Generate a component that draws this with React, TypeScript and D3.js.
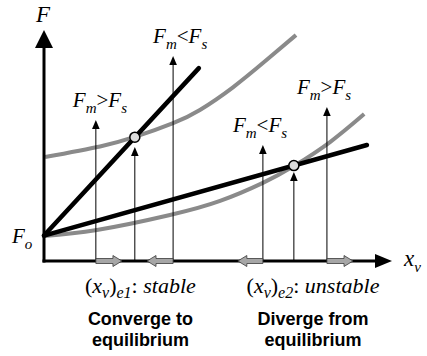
import React from "react";
import * as d3 from "d3";

// Abstract data units (x: valve position, y: force)
const F0 = 1.1;
const steepLine = [
  { x: 0, y: F0 },
  { x: 4.45, y: 8.35 },
];
const shallowLine = [
  { x: 0, y: F0 },
  { x: 9.28, y: 5.02 },
];
const upperCurveX = [0.03, 1.61, 2.61, 3.71, 4.48, 5.43, 6.41, 7.24];
const upperCurveY = [4.5, 4.96, 5.37, 5.97, 6.54, 7.52, 8.72, 9.78];
const lowerCurveX = [0, 1.52, 3.62, 5.06, 6.29, 7.18, 8.22, 9.2];
const lowerCurveY = [1.08, 1.34, 1.99, 2.6, 3.38, 4.11, 5.15, 6.36];
const equilibria = [
  { x: 2.61, y: 5.36 },
  { x: 7.18, y: 4.13 },
];
const probeX = [1.49, 2.61, 3.71, 6.29, 7.18, 8.13];
const probeTip = [6.1, 4.94, 8.87, 5.02, 3.85, 6.67];
const moveFrom = [1.49, 3.71, 6.29, 8.13];
const moveTo = [2.24, 2.96, 5.57, 8.88];
const compareLabels = [
  { x: 1.49, y: 6.1, dx: -23, op: ">" },
  { x: 3.71, y: 8.87, dx: -20, op: "<" },
  { x: 6.29, y: 5.02, dx: -30, op: "<" },
  { x: 8.13, y: 6.67, dx: -30, op: ">" },
];
const eqLabels = [
  { x: 2.77, sub: "e1", kind: "stable", l1: "Converge to", l2: "equilibrium" },
  { x: 7.73, sub: "e2", kind: "unstable", l1: "Diverge from", l2: "equilibrium" },
];

const W = 427;
const H = 356;
const serif = '"Liberation Serif", "Times New Roman", Times, serif';
const sans = '"Liberation Sans", Arial, Helvetica, sans-serif';

export default function App() {
  const x = d3.scaleLinear().domain([0, 10]).range([44, 392]);
  const y = d3.scaleLinear().domain([0, 10]).range([261, 30]);
  const x0 = x(0);
  const y0 = y(0);

  const line = d3
    .line<{ x: number; y: number }>()
    .x((d) => x(d.x))
    .y((d) => y(d.y));
  const curve = d3
    .line<{ x: number; y: number }>()
    .x((d) => x(d.x))
    .y((d) => y(d.y))
    .curve(d3.curveNatural);

  const upper = upperCurveX.map((v, i) => ({ x: v, y: upperCurveY[i] }));
  const lower = lowerCurveX.map((v, i) => ({ x: v, y: lowerCurveY[i] }));

  const grayArrow = (from: number, to: number) => {
    const a = x(from);
    const b = x(to);
    const dir = Math.sign(b - a);
    const head = 9;
    const bh = 2.5;
    const hh = 5.5;
    const c = b - dir * head;
    return `M${a},${y0 - bh}L${c},${y0 - bh}L${c},${y0 - hh}L${b},${y0}L${c},${y0 + hh}L${c},${y0 + bh}L${a},${y0 + bh}Z`;
  };

  const serifStyle = { fontFamily: serif };
  const sansStyle = { fontFamily: sans, fontWeight: 700 as const };

  return (
    <svg
      width={W}
      height={H}
      style={{ position: "absolute", left: 0, top: 0, background: "#fff" }}
    >
      <rect width={W} height={H} fill="#fff" />
      {/* gray curves */}
      <path d={curve(upper) || ""} fill="none" stroke="#8a8a8a" strokeWidth={4} />
      <path d={curve(lower) || ""} fill="none" stroke="#8a8a8a" strokeWidth={4} />
      {/* black lines */}
      <path d={line(steepLine) || ""} fill="none" stroke="#000" strokeWidth={4.5} strokeLinecap="round" />
      <path d={line(shallowLine) || ""} fill="none" stroke="#000" strokeWidth={4.5} strokeLinecap="round" />
      {/* vertical probe arrows */}
      {probeX.map((px, i) => {
        const xx = x(px);
        const tip = y(probeTip[i]);
        return (
          <g key={"p" + i}>
            <line x1={xx} x2={xx} y1={y0} y2={tip + 8} stroke="#000" strokeWidth={1} />
            <path d={`M${xx},${tip}L${xx - 3.8},${tip + 9}L${xx + 3.8},${tip + 9}Z`} fill="#000" />
          </g>
        );
      })}
      {/* equilibrium points */}
      {equilibria.map((e, i) => (
        <circle key={"e" + i} cx={x(e.x)} cy={y(e.y)} r={5} fill="#dcdcdc" stroke="#000" strokeWidth={1.5} />
      ))}
      {/* axes */}
      <line x1={x0} x2={x0} y1={y0 + 1.5} y2={46} stroke="#000" strokeWidth={3} />
      <path d={`M${x0},30L${x0 - 9},48L${x0 + 9},48Z`} fill="#000" />
      <line x1={x0 - 1.5} x2={376} y1={y0} y2={y0} stroke="#000" strokeWidth={3} />
      <path d={`M392,${y0}L375,${y0 - 7}L375,${y0 + 7}Z`} fill="#000" />
      {/* movement arrows */}
      {moveFrom.map((f, i) => (
        <path key={"m" + i} d={grayArrow(f, moveTo[i])} fill="#a6a6a6" stroke="#3a3a3a" strokeWidth={0.8} />
      ))}
      {/* axis labels */}
      <text x={36} y={22} style={serifStyle} fontStyle="italic" fontSize={23}>F</text>
      <text x={12} y={243} style={serifStyle} fontSize={21}>
        <tspan fontStyle="italic">F</tspan>
        <tspan fontStyle="italic" fontSize={15} dy={6}>o</tspan>
      </text>
      <text x={404} y={266} style={serifStyle} fontSize={23}>
        <tspan fontStyle="italic">x</tspan>
        <tspan fontStyle="italic" fontSize={15} dy={6}>v</tspan>
      </text>
      {/* comparison labels */}
      {compareLabels.map((l, i) => (
        <text key={"c" + i} x={x(l.x) + l.dx} y={y(l.y) - 13} style={serifStyle} fontSize={21}>
          <tspan fontStyle="italic">F</tspan>
          <tspan fontStyle="italic" fontSize={15} dy={6}>m</tspan>
          <tspan dy={-6}>{l.op}</tspan>
          <tspan fontStyle="italic">F</tspan>
          <tspan fontStyle="italic" fontSize={15} dy={6}>s</tspan>
        </text>
      ))}
      {/* equilibrium labels */}
      {eqLabels.map((l, i) => (
        <g key={"q" + i}>
          <text x={x(l.x)} y={293} textAnchor="middle" style={serifStyle} fontSize={22}>
            <tspan>(</tspan>
            <tspan fontStyle="italic">x</tspan>
            <tspan fontStyle="italic" fontSize={16} dy={5}>v</tspan>
            <tspan dy={-5}>)</tspan>
            <tspan fontStyle="italic" fontSize={16} dy={5}>{l.sub}</tspan>
            <tspan dy={-5}>: </tspan>
            <tspan fontStyle="italic">{l.kind}</tspan>
          </text>
          <text x={x(l.x)} y={325} textAnchor="middle" style={sansStyle} fontSize={18}>
            {l.l1}
          </text>
          <text x={x(l.x)} y={346} textAnchor="middle" style={sansStyle} fontSize={18}>
            {l.l2}
          </text>
        </g>
      ))}
    </svg>
  );
}
